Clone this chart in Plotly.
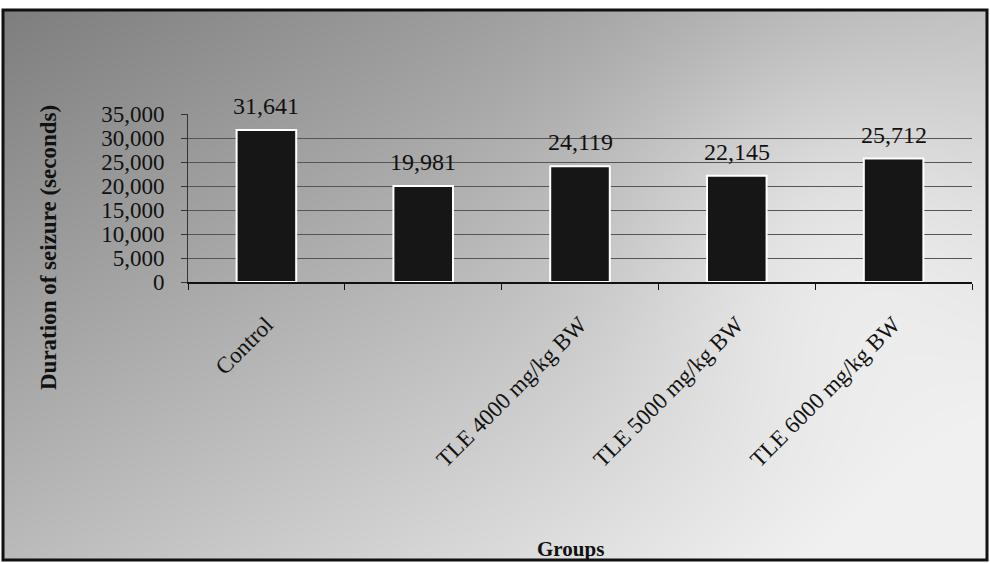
import base64, struct, zlib
import numpy as np
import plotly.graph_objects as go

# ---- data ----
categories = ["Control", " ", "TLE 4000 mg/kg BW", "TLE 5000 mg/kg BW", "TLE 6000 mg/kg BW"]
durations = [31641, 19981, 24119, 22145, 25712]
value_labels = ["31,641", "19,981", "24,119", "22,145", "25,712"]
y_ticks = [0, 5000, 10000, 15000, 20000, 25000, 30000, 35000]
y_tick_text = ["0", "5,000", "10,000", "15,000", "20,000", "25,000", "30,000", "35,000"]

W, H = 990, 563
ML, MR, MT, MB = 188, 18, 114, 281
PW, PH = W - ML - MR, H - MT - MB


def gradient_png(w, h, ox, oy):
    xs = np.arange(w)[None, :] + ox
    ys = np.arange(h)[:, None] + oy
    v = 125 + 0.065 * xs + 0.11 * ys
    v = v + 25 * np.exp(-(((xs - 820) / 200.0) ** 2 + ((ys - 230) / 200.0) ** 2))
    v = np.clip(v, 0, 240).astype(np.uint8)
    raw = b"".join(b"\x00" + v[r].tobytes() for r in range(h))

    def chunk(t, d):
        c = struct.pack(">I", len(d)) + t + d
        return c + struct.pack(">I", zlib.crc32(t + d) & 0xFFFFFFFF)

    png = b"\x89PNG\r\n\x1a\n" + chunk(b"IHDR", struct.pack(">IIBBBBB", w, h, 8, 0, 0, 0, 0))
    png += chunk(b"IDAT", zlib.compress(raw, 9)) + chunk(b"IEND", b"")
    return "data:image/png;base64," + base64.b64encode(png).decode()


BX0, BY0, BX1, BY1 = 3, 10, 987, 560
bg = gradient_png(BX1 - BX0, BY1 - BY0, BX0, BY0)

def px_x(p):
    return (p - ML) / PW

def px_y(p):
    return 1 - (p - MT) / PH

SERIF = "Liberation Serif, Times New Roman, serif"

fig = go.Figure()
fig.add_trace(go.Bar(
    x=categories, y=durations,
    marker=dict(color="#161616", line=dict(color="white", width=2)),
    hoverinfo="skip",
))

for c, v, t in zip(categories, durations, value_labels):
    fig.add_annotation(x=c, y=v, text=t, showarrow=False, yanchor="bottom", yshift=9,
                       font=dict(family=SERIF, size=24, color="#111"))

fig.add_annotation(x=px_x(48), y=px_y(248), xref="paper", yref="paper", xanchor="center", yanchor="middle",
                   text="<b>Duration of seizure (seconds)</b>",
                   textangle=-90, showarrow=False, font=dict(family=SERIF, size=23, color="#111"))
fig.add_annotation(x=px_x(570), y=px_y(549), xref="paper", yref="paper", xanchor="center", yanchor="middle",
                   text="<b>Groups</b>",
                   showarrow=False, font=dict(family=SERIF, size=21, color="#111"))

fig.add_layout_image(dict(source=bg, xref="paper", yref="paper",
                          x=px_x(BX0), y=px_y(BY0), sizex=(BX1 - BX0) / PW, sizey=(BY1 - BY0) / PH,
                          sizing="stretch", layer="below", xanchor="left", yanchor="top"))
fig.add_shape(type="rect", xref="paper", yref="paper", x0=px_x(BX0), x1=px_x(BX1), y0=px_y(BY1), y1=px_y(BY0),
              line=dict(color="#111", width=3), layer="above")

fig.update_layout(
    width=W, height=H, margin=dict(l=ML, r=MR, t=MT, b=MB),
    paper_bgcolor="white", plot_bgcolor="rgba(0,0,0,0)",
    bargap=0.62, showlegend=False,
    font=dict(family=SERIF, color="#111"),
)
fig.update_xaxes(
    type="category", tickangle=-45, tickson="boundaries", ticks="outside", ticklen=6,
    tickcolor="#111", showline=True, linecolor="#111", linewidth=2, showgrid=False,
    tickfont=dict(family=SERIF, size=23, color="#111"), ticklabelstandoff=18,
)
fig.update_yaxes(
    range=[0, 35000], tickvals=y_ticks, ticktext=y_tick_text, ticks="outside", ticklen=6,
    tickcolor="#333", showline=True, linecolor="#333", linewidth=1,
    showgrid=True, gridcolor="#555555", gridwidth=1, zeroline=False,
    tickfont=dict(family=SERIF, size=23, color="#111"), ticklabelstandoff=12,
)
fig.update_traces(cliponaxis=False)

fig.write_html("out.html")
